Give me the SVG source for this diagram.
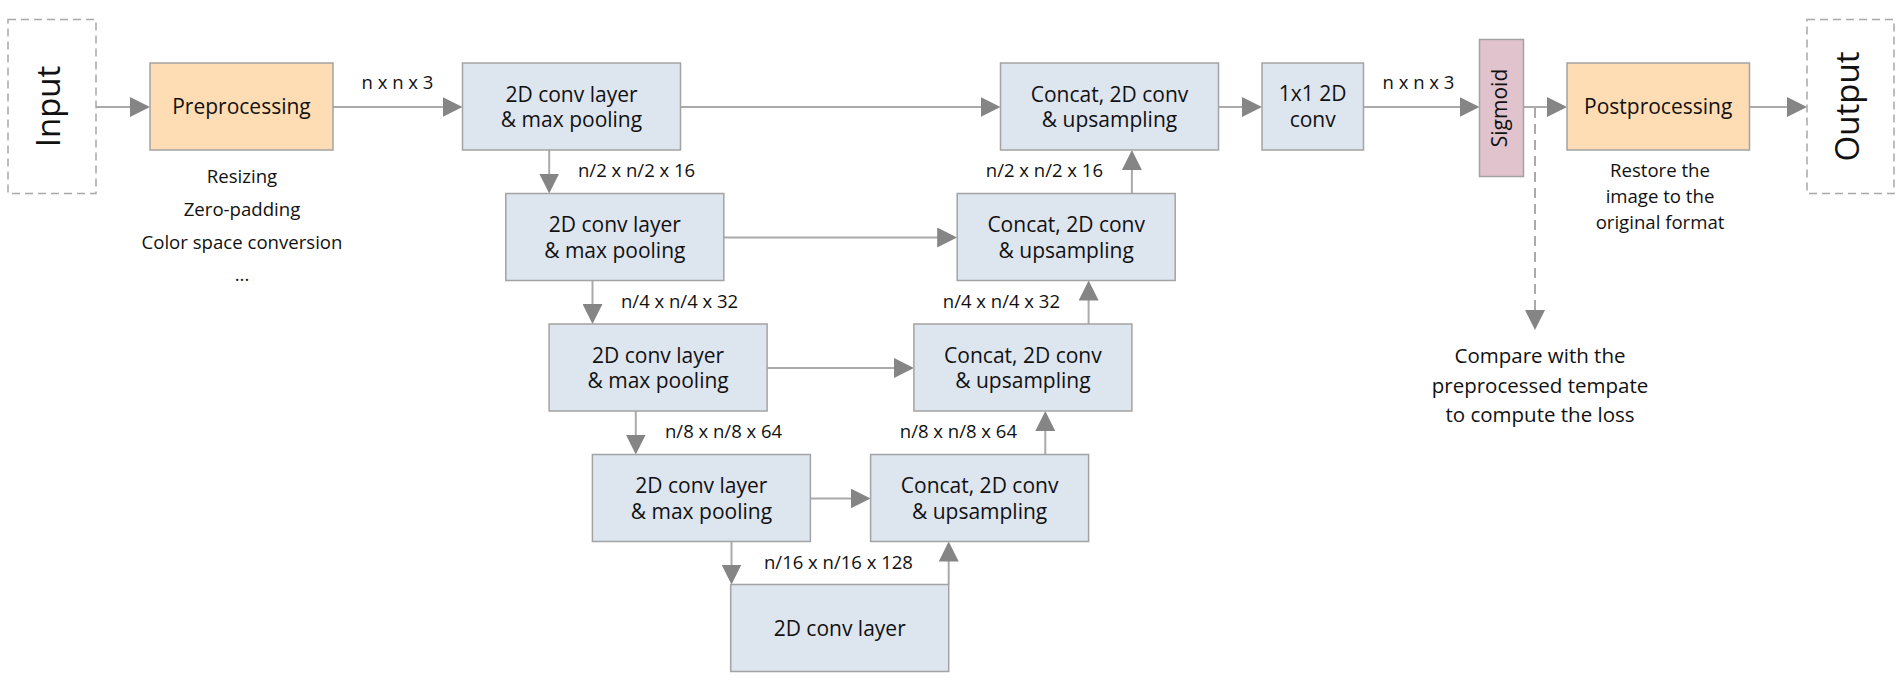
<svg xmlns="http://www.w3.org/2000/svg" width="1903" height="685" viewBox="0 0 1903 685">
<style>
text{font-family:"Open Sans","Noto Sans","DejaVu Sans",sans-serif;fill:#111}
.box{fill:#dde5ef;stroke:#a3a3a3;stroke-width:1.5}
.peach{fill:#ffddb4;stroke:#a3a3a3;stroke-width:1.5}
.pink{fill:#e0c3cd;stroke:#a3a3a3;stroke-width:1.5}
.dash{fill:#fff;stroke:#a8a8a8;stroke-width:1.5;stroke-dasharray:8 5}
.t{font-size:21px;text-anchor:middle}
.big{font-size:33px;text-anchor:middle}
.lbl{font-size:18.5px}
.note{font-size:18.6px;text-anchor:middle}
.cmp{font-size:20.5px;text-anchor:middle}
.c{fill:none;stroke:#aaaaaa;stroke-width:2;marker-end:url(#ah)}
.cd{fill:none;stroke:#aaaaaa;stroke-width:2;stroke-dasharray:10 6;marker-end:url(#ah)}
</style>
<defs>
<marker id="ah" markerUnits="userSpaceOnUse" markerWidth="20" markerHeight="20" refX="10" refY="10" orient="auto" viewBox="0 0 20 20">
<path d="M0,0 L20,10 L0,20 Z" fill="#858585"/>
</marker>
</defs>
<rect width="1903" height="685" fill="#fff"/>

<g id="connectors">
<line class="c" x1="96" y1="107" x2="140" y2="107"/>
<line class="c" x1="333" y1="107" x2="452.5" y2="107"/>
<line class="c" x1="680.5" y1="107" x2="990.5" y2="107"/>
<line class="c" x1="1218.5" y1="107" x2="1252" y2="107"/>
<line class="c" x1="1363.5" y1="107" x2="1469.5" y2="107"/>
<line class="c" x1="1523.5" y1="107" x2="1557" y2="107"/>
<line class="c" x1="1749.5" y1="107" x2="1797" y2="107"/>
<line class="cd" x1="1535" y1="108" x2="1535" y2="320"/>
<line class="c" x1="723.8" y1="237.5" x2="947.2" y2="237.5"/>
<line class="c" x1="767.1" y1="368" x2="903.9" y2="368"/>
<line class="c" x1="810.4" y1="498.5" x2="860.6" y2="498.5"/>
<line class="c" x1="549.2" y1="150" x2="549.2" y2="183.5"/>
<line class="c" x1="592.5" y1="280.5" x2="592.5" y2="314"/>
<line class="c" x1="635.8" y1="411" x2="635.8" y2="444.5"/>
<line class="c" x1="731.5" y1="541.5" x2="731.5" y2="574.5"/>
<line class="c" x1="948.7" y1="584.5" x2="948.7" y2="551.5"/>
<line class="c" x1="1045.3" y1="454.5" x2="1045.3" y2="421"/>
<line class="c" x1="1088.6" y1="324" x2="1088.6" y2="290.5"/>
<line class="c" x1="1131.9" y1="193.5" x2="1131.9" y2="160"/>
<text class="lbl" x="397.5" y="89.3" text-anchor="middle">n x n x 3</text>
<text class="lbl" x="1418.5" y="89" text-anchor="middle">n x n x 3</text>
<text class="lbl" x="578" y="177">n/2 x n/2 x 16</text>
<text class="lbl" x="621" y="307.5">n/4 x n/4 x 32</text>
<text class="lbl" x="665" y="438">n/8 x n/8 x 64</text>
<text class="lbl" x="764" y="568.5">n/16 x n/16 x 128</text>
<text class="lbl" x="1017" y="438" text-anchor="end">n/8 x n/8 x 64</text>
<text class="lbl" x="1060" y="307.5" text-anchor="end">n/4 x n/4 x 32</text>
<text class="lbl" x="1103" y="177" text-anchor="end">n/2 x n/2 x 16</text>
</g>

<g id="input">
<rect class="dash" x="8" y="19.5" width="88" height="174"/>
<text class="big" transform="translate(52,106.5) rotate(-90)" x="0" y="8">Input</text>
</g>
<g id="preprocessing">
<rect class="peach" x="150" y="63" width="183" height="87"/>
<text class="t" x="241.5" y="113.5">Preprocessing</text>
<text class="note" x="242" y="183.3">Resizing</text>
<text class="note" x="242" y="216.3">Zero-padding</text>
<text class="note" x="242" y="248.5">Color space conversion</text>
<text class="note" x="242" y="281">...</text>
</g>
<g id="enc1">
<rect class="box" x="462.5" y="63" width="218" height="87"/>
<text class="t" x="571.5" y="101.7">2D conv layer</text>
<text class="t" x="571.5" y="127.3">&amp; max pooling</text>
</g>
<g id="enc2">
<rect class="box" x="505.8" y="193.5" width="218" height="87"/>
<text class="t" x="614.8" y="232.2">2D conv layer</text>
<text class="t" x="614.8" y="257.8">&amp; max pooling</text>
</g>
<g id="enc3">
<rect class="box" x="549.1" y="324" width="218" height="87"/>
<text class="t" x="658.1" y="362.7">2D conv layer</text>
<text class="t" x="658.1" y="388.3">&amp; max pooling</text>
</g>
<g id="enc4">
<rect class="box" x="592.4" y="454.5" width="218" height="87"/>
<text class="t" x="701.4" y="493.2">2D conv layer</text>
<text class="t" x="701.4" y="518.8">&amp; max pooling</text>
</g>
<g id="bottleneck">
<rect class="box" x="730.7" y="584.5" width="218" height="87"/>
<text class="t" x="839.7" y="636">2D conv layer</text>
</g>
<g id="dec4">
<rect class="box" x="870.6" y="454.5" width="218" height="87"/>
<text class="t" x="979.6" y="493.2">Concat, 2D conv</text>
<text class="t" x="979.6" y="518.8">&amp; upsampling</text>
</g>
<g id="dec3">
<rect class="box" x="913.9" y="324" width="218" height="87"/>
<text class="t" x="1022.9" y="362.7">Concat, 2D conv</text>
<text class="t" x="1022.9" y="388.3">&amp; upsampling</text>
</g>
<g id="dec2">
<rect class="box" x="957.2" y="193.5" width="218" height="87"/>
<text class="t" x="1066.2" y="232.2">Concat, 2D conv</text>
<text class="t" x="1066.2" y="257.8">&amp; upsampling</text>
</g>
<g id="dec1">
<rect class="box" x="1000.5" y="63" width="218" height="87"/>
<text class="t" x="1109.5" y="101.7">Concat, 2D conv</text>
<text class="t" x="1109.5" y="127.3">&amp; upsampling</text>
</g>
<g id="conv1x1">
<rect class="box" x="1262" y="63" width="101.5" height="87"/>
<text class="t" x="1312.7" y="101.2">1x1 2D</text>
<text class="t" x="1312.7" y="126.8">conv</text>
</g>
<g id="sigmoid">
<rect class="pink" x="1479.5" y="39.5" width="44" height="137"/>
<text class="t" transform="translate(1501.5,108) rotate(-90)" x="0" y="5">Sigmoid</text>
</g>
<g id="postprocessing">
<rect class="peach" x="1567" y="63" width="182.5" height="87"/>
<text class="t" x="1658.2" y="113.5">Postprocessing</text>
<text class="note" x="1660" y="176.7">Restore the</text>
<text class="note" x="1660" y="203">image to the</text>
<text class="note" x="1660" y="229.3">original format</text>
</g>
<g id="output">
<rect class="dash" x="1807" y="19.5" width="87" height="174"/>
<text class="big" transform="translate(1850.5,106.5) rotate(-90)" x="0" y="8">Output</text>
</g>
<g id="loss">
<text class="cmp" x="1540" y="363.3">Compare with the</text>
<text class="cmp" x="1540" y="392.6">preprocessed tempate</text>
<text class="cmp" x="1540" y="421.8">to compute the loss</text>
</g>
</svg>
